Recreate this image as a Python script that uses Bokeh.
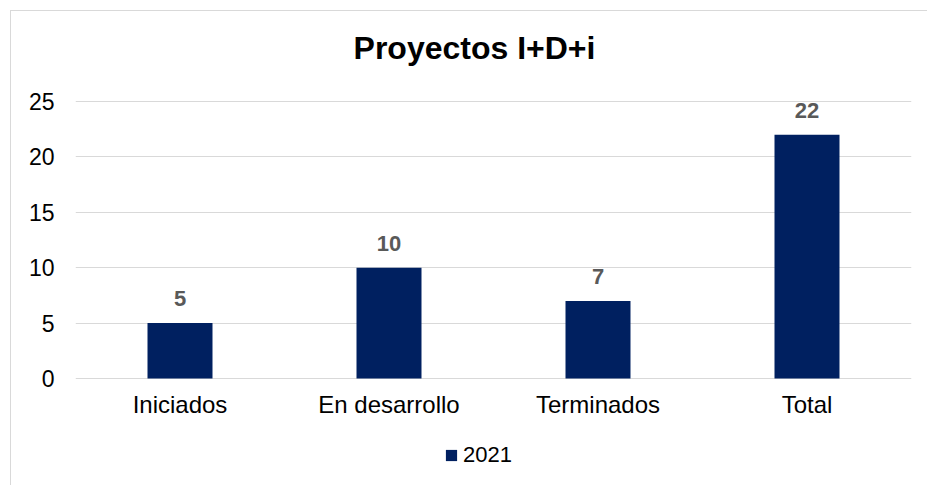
from bokeh.plotting import figure
from bokeh.models import (ColumnDataSource, Range1d, FactorRange, Legend, LegendItem, LabelSet,
                          Label, FixedTicker)
from bokeh.core.properties import value
from bokeh.embed import file_html
from bokeh.resources import INLINE

categories = ["Iniciados", "En desarrollo", "Terminados", "Total"]
values_2021 = [5, 10, 7, 22]
y_ticks = [0, 5, 10, 15, 20, 25]
series_name = "2021"
title_text = "Proyectos I+D+i"

FONT = "Liberation Sans"
BAR = "#002060"

# layout (pixels inside the canvas)
FRAME_H = 472
ZERO_FROM_BOTTOM = 107     # px from frame bottom to the value 0
PX_PER_UNIT = 11.08
y0 = -ZERO_FROM_BOTTOM / PX_PER_UNIT
y1 = y0 + FRAME_H / PX_PER_UNIT

src = ColumnDataSource(dict(cat=categories, val=values_2021, lbl=[str(v) for v in values_2021],
                            base=[0] * len(categories)))

p = figure(x_range=FactorRange(*categories), y_range=Range1d(y0, y1),
           frame_width=836, frame_height=FRAME_H, output_backend="svg", toolbar_location=None,
           min_border_left=64, min_border_right=17, min_border_top=2, min_border_bottom=0)
p.margin = (10, 0, 0, 10)
p.styles = {"border-left": "1px solid #d9d9d9", "border-top": "1px solid #d9d9d9"}

r = p.vbar(x="cat", top="val", width=0.311, source=src, fill_color=BAR, line_color=None)

# value labels
p.add_layout(LabelSet(x="cat", y="val", text="lbl", source=src, text_align="center",
                      text_baseline="alphabetic", y_offset=17, text_font=value(FONT),
                      text_font_size=value("22px"), text_font_style="bold",
                      text_color="#595959"))
# category labels
p.add_layout(LabelSet(x="cat", y="base", text="cat", source=src, text_align="center",
                      text_baseline="alphabetic", y_offset=-34, text_font=value(FONT),
                      text_font_size=value("24px"), text_color="#000000"))
# title
p.add_layout(Label(x=2 - 19 / 209, y=max(y_ticks) + 54 / PX_PER_UNIT, text=title_text,
                   text_align="center", text_baseline="alphabetic", text_font=FONT,
                   text_font_size="32px", text_font_style="bold", text_color="#000000"))

p.outline_line_color = None
p.xgrid.grid_line_color = None
p.ygrid.grid_line_color = "#d9d9d9"
p.ygrid.grid_line_width = 1

p.yaxis.ticker = FixedTicker(ticks=y_ticks)
p.yaxis.axis_line_color = None
p.yaxis.major_tick_line_color = None
p.yaxis.minor_tick_line_color = None
p.yaxis.major_tick_out = 0
p.yaxis.major_tick_in = 0
p.yaxis.minor_tick_out = 0
p.yaxis.major_label_text_font = FONT
p.yaxis.major_label_text_font_size = "23px"
p.yaxis.major_label_text_color = "#000000"
p.yaxis.major_label_standoff = 21

p.xaxis.visible = False

legend = Legend(items=[LegendItem(label=series_name, renderers=[r])], location=(369, 17),
                orientation="horizontal", label_text_font=FONT, label_text_font_size="22px",
                label_text_color="#000000", glyph_width=14, glyph_height=14,
                border_line_color=None, background_fill_alpha=0, margin=0, padding=0,
                label_standoff=5)
p.add_layout(legend, "center")

open("out.html", "w").write(file_html(p, INLINE))
